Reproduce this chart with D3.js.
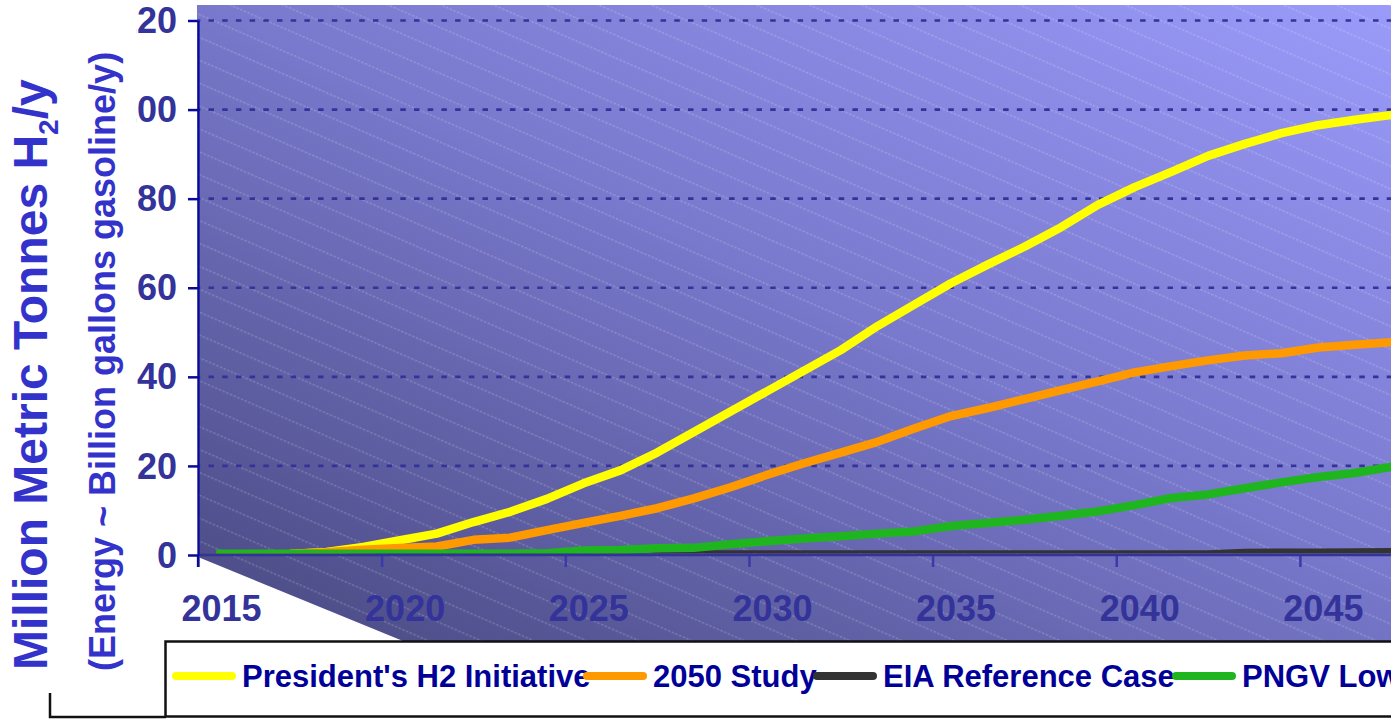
<!DOCTYPE html>
<html><head><meta charset="utf-8">
<script src="https://cdn.jsdelivr.net/npm/d3@7"></script>
<style>html,body{margin:0;padding:0;background:#fff;overflow:hidden}svg{display:block}</style>
</head><body>
<svg id="chart" width="1391" height="719"></svg>
<script>
// ---------- DATA ----------
const years = [2015,2016,2017,2018,2019,2020,2021,2022,2023,2024,2025,2026,2027,2028,2029,2030,2031,2032,2033,2034,2035,2036,2037,2038,2039,2040,2041,2042,2043,2044,2045,2046,2047,2048,2049,2050];
const presidentsH2 = [0,0,0.2,0.7,1.8,3.3,4.8,7.4,9.7,12.6,16.1,19.0,23.0,27.6,32.2,36.8,41.4,46.0,51.4,56.2,61.0,65.2,69.2,73.6,78.6,82.6,86.0,89.6,92.3,94.7,96.5,97.7,98.8,99.7,100.4,101.0];
const study2050 = [0,0,0.2,0.6,1.2,1.6,1.9,3.4,3.9,5.6,7.2,8.8,10.5,12.7,15.2,18.0,20.6,23.0,25.4,28.4,31.2,33.0,35.0,37.0,39.0,41.0,42.4,43.7,44.8,45.3,46.6,47.2,47.8,48.3,48.8,49.2];
const eiaReference = [0.1,0.1,0.1,0.1,0.1,0.1,0.1,0.1,0.1,0.1,0.1,0.1,0.1,0.1,0.1,0.1,0.1,0.1,0.1,0.1,0.1,0.1,0.1,0.1,0.1,0.1,0.1,0.1,0.45,0.5,0.5,0.55,0.6,0.6,0.65,0.7];
const pngvLow = [0.3,0.3,0.3,0.3,0.3,0.3,0.3,0.3,0.3,0.4,1.0,1.1,1.5,1.6,2.4,3.1,3.7,4.2,4.8,5.3,6.5,7.2,7.9,8.8,9.8,11.2,12.8,13.6,15.0,16.3,17.5,18.4,19.8,21.0,22.0,23.0];
const seriesNames = ["President's H2 Initiative", "2050 Study", "EIA Reference Case", "PNGV Low"];
const yTickValues = [0,20,40,60,80,100,120];
const xTickValues = [2015,2020,2025,2030,2035,2040,2045];
const xTickLabels = ["2015","2020","2025","2030","2035","2040","2045"];
const yTitleMain = "Million Metric Tonnes H";
const yTitleSub = "2";
const yTitleEnd = "/y";
const yTitle2 = "(Energy ~ Billion gallons gasoline/y)";

// ---------- STYLE / LAYOUT ----------
const seriesData = [presidentsH2, study2050, eiaReference, pngvLow];
const seriesColors = ["#ffff00", "#ff9900", "#333333", "#1fb51f"];
const legendX = [172, 583, 813, 1172];
const FONT = "'Liberation Sans', Arial, sans-serif";

const svg = d3.select("#chart");
const x = d3.scaleLinear().domain([2015, 2051]).range([198, 198 + 36 * 36.73]);
const y = d3.scaleLinear().domain([0, 120]).range([555, 20.5]);
const plotRight = 1520;

const defs = svg.append("defs");
const grad = defs.append("linearGradient").attr("id", "bg")
  .attr("x1", 0).attr("y1", 1).attr("x2", 1).attr("y2", 0);
grad.append("stop").attr("offset", 0).attr("stop-color", "#484880");
grad.append("stop").attr("offset", 0.5).attr("stop-color", "#7878cc");
grad.append("stop").attr("offset", 1).attr("stop-color", "#9e9eff");

const pat = defs.append("pattern").attr("id", "hatch")
  .attr("patternUnits", "userSpaceOnUse").attr("width", 20).attr("height", 21)
  .attr("patternTransform", "rotate(23.5)");
pat.append("line").attr("x1", 0).attr("x2", 20).attr("y1", 17.8).attr("y2", 17.8)
  .attr("stroke", "#ffffff").attr("stroke-opacity", 0.28).attr("stroke-width", 1)
  .attr("stroke-dasharray", "2.5 1.5");

defs.append("clipPath").attr("id", "plotClip").append("rect")
  .attr("x", 198).attr("y", 5).attr("width", 1400).attr("height", 548.5);
defs.append("clipPath").attr("id", "yLabClip").append("rect")
  .attr("x", 136.5).attr("y", 0).attr("width", 70).attr("height", 600);

// background walls + floor
const bgPath = `M197,5 H${plotRight} V641 H403 L198,557 Z`;
svg.append("path").attr("d", bgPath).attr("fill", "url(#bg)");
svg.append("path").attr("d", bgPath).attr("fill", "url(#hatch)");

// gridlines
svg.append("g").selectAll("line").data(yTickValues.filter(v => v > 0)).join("line")
  .attr("x1", 198).attr("x2", plotRight)
  .attr("y1", d => y(d)).attr("y2", d => y(d))
  .attr("stroke", "#333399").attr("stroke-width", 2.6)
  .attr("stroke-dasharray", "5.5 8.2").attr("stroke-dashoffset", 3.2);

// series lines
const line = d3.line().x((d, i) => x(years[i] + 0.5)).y(d => y(d));
svg.append("g").attr("clip-path", "url(#plotClip)")
  .selectAll("path").data(seriesData).join("path")
  .attr("d", d => line(d))
  .attr("fill", "none")
  .attr("stroke", (d, i) => seriesColors[i])
  .attr("stroke-width", 8.5)
  .attr("stroke-linejoin", "round");

// x axis
const xAxis = svg.append("g").attr("transform", "translate(0,555)")
  .call(d3.axisBottom(x).tickValues(xTickValues).tickSize(12).tickSizeOuter(0)
    .tickFormat((d, i) => xTickLabels[i]));
xAxis.select(".domain").remove();
xAxis.append("line").attr("x1", 198).attr("x2", plotRight).attr("y1", 0).attr("y2", 0)
  .attr("stroke", "#333399").attr("stroke-width", 2.6);
xAxis.selectAll(".tick line").attr("stroke", "#3a3aa8").attr("stroke-width", 2.5).attr("y1", 1);
xAxis.selectAll(".tick text")
  .attr("x", 23).attr("y", 66).attr("dy", 0)
  .attr("fill", "#333399").attr("font-family", FONT).attr("font-size", 36).attr("font-weight", "bold");

// y axis
const yAxis = svg.append("g").attr("transform", "translate(198,0)")
  .call(d3.axisLeft(y).tickValues(yTickValues).tickSize(10).tickSizeOuter(0).tickPadding(11)
    .tickFormat(d3.format("d")));
yAxis.select(".domain").attr("stroke", "#0a0a99").attr("stroke-width", 2.3);
yAxis.append("line").attr("x1", 0).attr("x2", 0).attr("y1", y(0)).attr("y2", 567)
  .attr("stroke", "#0a0a99").attr("stroke-width", 2.3);
yAxis.selectAll(".tick line").attr("stroke", "#0a0a99").attr("stroke-width", 2.5);
// move labels into a group clipped on the left (as in the reference)
const yLabG = svg.append("g").attr("clip-path", "url(#yLabClip)");
yAxis.selectAll(".tick").each(function(d) {
  d3.select(this).select("text").remove();
  yLabG.append("text")
    .attr("x", 198 - 21).attr("y", y(d)).attr("dy", "0.35em")
    .attr("text-anchor", "end")
    .attr("fill", "#333399").attr("font-family", FONT).attr("font-size", 36).attr("font-weight", "bold")
    .text(d3.format("d")(d));
});

// y titles
const t1 = svg.append("text").attr("transform", "translate(47,670) rotate(-90)")
  .attr("font-family", FONT).attr("font-weight", "bold").attr("font-size", 48).attr("fill", "#3333cc");
t1.append("tspan").text(yTitleMain);
t1.append("tspan").attr("font-size", 28).attr("dy", 11).text(yTitleSub);
t1.append("tspan").attr("dy", -11).text(yTitleEnd);

svg.append("text").attr("transform", "translate(115,671) rotate(-90)")
  .attr("font-family", FONT).attr("font-weight", "bold").attr("font-size", 36).attr("fill", "#3333cc")
  .text(yTitle2);

// frame + legend
svg.append("path").attr("d", "M50,693 V717 H166").attr("fill", "none")
  .attr("stroke", "#111").attr("stroke-width", 2.5);
svg.append("rect").attr("x", 165.5).attr("y", 641.5).attr("width", 1300).attr("height", 75)
  .attr("fill", "#fff").attr("stroke", "#111").attr("stroke-width", 2.5);
const leg = svg.append("g");
seriesNames.forEach((name, i) => {
  const g = leg.append("g");
  g.append("line").attr("x1", legendX[i] + 4).attr("x2", legendX[i] + 60)
    .attr("y1", 676).attr("y2", 676)
    .attr("stroke", seriesColors[i]).attr("stroke-width", 8).attr("stroke-linecap", "round");
  g.append("text").attr("x", legendX[i] + 70).attr("y", 687)
    .attr("font-family", FONT).attr("font-weight", "bold").attr("font-size", 31).attr("fill", "#000099")
    .text(name);
});
</script>
</body></html>
